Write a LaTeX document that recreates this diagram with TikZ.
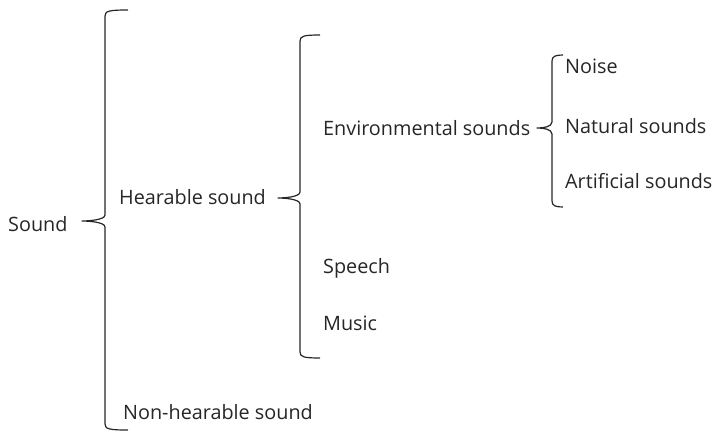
\documentclass[tikz,border=0pt]{standalone}
\usepackage{fontspec}
\setmainfont{Open Sans}
\begin{document}
\begin{tikzpicture}[x=1pt,y=-1pt,
  lbl/.style={anchor=west,inner sep=0pt,font=\fontsize{19.8}{23}\selectfont,text=black!85},
  brace/.style={draw=black!85,line width=1.2pt,line join=round}]
\useasboundingbox (0,0) rectangle (716,434);
% braces: #1 x, top, bottom, tip y, tip x, arm end x
\newcommand{\wbrace}[6]{%
  \draw[brace] (#6,#2) .. controls (#1+4,#2) and (#1,#2+1) .. (#1,#2+6)
    -- (#1,#4-6) .. controls (#1,#4-1) and (#5+6,#4) .. (#5,#4)
    .. controls (#5+6,#4) and (#1,#4+1) .. (#1,#4+6)
    -- (#1,#3-6) .. controls (#1,#3-1) and (#1+4,#3) .. (#6,#3);}
\node[lbl] (sound) at (8,224) {Sound};
\node[lbl] (hear) at (119,197) {Hearable sound};
\node[lbl] (nonhear) at (123,412) {Non-hearable sound};
\node[lbl] (env) at (323,128) {Environmental sounds};
\node[lbl] (speech) at (323,268) {Speech};
\node[lbl] (music) at (323,323) {Music};
\node[lbl] (noise) at (565,66) {Noise};
\node[lbl] (natural) at (565,126) {Natural sounds};
\node[lbl] (artificial) at (565,181) {Artificial sounds};
\wbrace{105}{10}{430}{221}{82}{128}
\wbrace{300}{35}{358}{198}{278}{320}
\wbrace{552}{55}{207}{128}{537}{563}
\end{tikzpicture}
\end{document}
